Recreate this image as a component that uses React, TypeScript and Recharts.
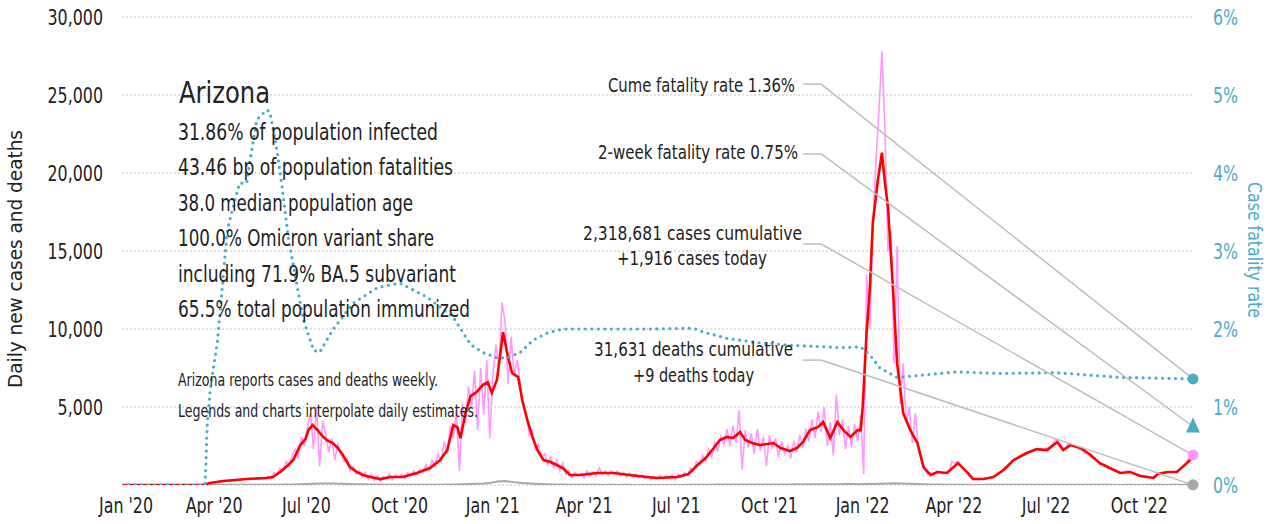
import {
  CartesianGrid,
  Line,
  LineChart,
  ReferenceDot,
  ReferenceLine,
  XAxis,
  YAxis,
} from "recharts";

const FONT = "'Liberation Sans Narrow', 'Arial Narrow', 'DejaVu Sans Condensed', sans-serif";
const TEAL = "#4bacc6";
const PINK = "#ff99ff";
const RED = "#ff0000";
const GRAY = "#a6a6a6";
const INK = "#222222";
const LEADER = "#bdbdbd";
const SQUEEZE = 0.84;

// days since Jan 1 2020
const xTickDays = [0, 91, 182, 274, 366, 456, 547, 639, 731, 821, 912, 1004];
const xTickLabels = ["Jan '20", "Apr '20", "Jul '20", "Oct '20", "Jan '21", "Apr '21", "Jul '21", "Oct '21", "Jan '22", "Apr '22", "Jul '22", "Oct '22"];
const caseTicks = [5000, 10000, 15000, 20000, 25000, 30000];
const rateTicks = [0, 1, 2, 3, 4, 5, 6];
const lastDay = 1057;

// daily new cases, one value every 3 days
const dailyStep = 3;
const dailyCases = [
  0, 0, 0, 0, 0, 0, 0, 0, 0, 0, 0, 0, 0, 0, 0, 0, 0, 0, 0, 0, 0, 0, 0, 0, 0, 0, 0,
  20, 60, 120, 200, 180, 260, 250, 300, 230, 320, 280, 350, 300, 400, 350, 420, 380, 450, 400, 480,
  420, 550, 500, 800, 650, 1100, 900, 1500, 1200, 1900, 2300, 1800, 3100, 2500, 3700, 4600, 2300,
  5000, 1200, 4100, 3300, 2100, 3000, 1600, 2600, 2000, 1500, 1700, 900, 1200, 700, 900, 500, 800, 350,
  700, 300, 600, 250, 550, 400, 700, 350, 650, 450, 700, 400, 800, 600, 900, 650, 1000, 800,
  1300, 900, 1600, 1200, 2000, 1500, 2800, 2000, 3800, 3000, 4800, 900, 5200, 4000, 6300, 5000, 7300, 3500,
  7500, 4500, 8000, 3000, 7000, 9000, 7500, 11700, 10500, 6500, 9500, 7000, 8000, 6500, 5000, 4500, 3200,
  3500, 2300, 2600, 1800, 2000,
  1300, 1800, 1100, 1600, 900, 1400, 700, 900, 500, 800, 600, 700, 450, 900, 600, 800, 600, 1100, 700,
  900, 600, 900, 700, 900, 600, 800, 500, 750, 500, 700, 450, 650, 400, 600, 350, 550, 400, 600, 400,
  600, 500, 650, 350, 700, 500, 800, 600,
  1100, 900, 1500, 1300, 1900, 1500, 2300, 1800, 2700, 2200, 3100, 2600, 3600, 2500, 3800, 2700, 4800, 1000,
  3500, 2400, 3300, 2000, 3600, 2200, 3100, 1200, 3200, 2300, 3000, 1800, 2800, 2000, 2500, 1700, 2800, 2100,
  3200, 2400, 3600, 2800, 4200, 3000, 4700, 3400, 5000, 2500, 4000, 1900, 5800, 3200, 4200, 2300, 3800, 2400,
  3900, 2800, 4500,
  700, 13500, 10000, 16500, 20600, 23900, 27800, 22700, 15000, 16300, 7800, 15300, 5200, 7800, 4000, 5000,
  2700, 4600, 2250, 1600, 1000, 700,
  800, 650, 900, 800, 700, 800, 750, 1500, 1400, 1500, 1300, 1000, 800, 500, 350, 350, 350, 380, 400, 450,
  500, 550, 650, 850, 1000, 1100, 1300, 1550, 1700, 1800, 1950, 2050, 2100, 2200, 2300, 2300, 2250, 2200,
  2350, 2400, 2600, 2900, 2800, 2500, 2300, 2600, 2600, 2500, 2450, 2300, 2200, 2100, 1900, 1800, 1650, 1500,
  1300, 1300, 1150, 1000, 1050, 950, 800, 750, 850, 900, 800, 750, 650, 600, 600, 550, 500, 480, 500, 750,
  800, 850, 850, 850, 850, 900, 1000, 1200, 1400, 1700, 1900,
];

// daily deaths, one value per week
const deathStep = 7;
const dailyDeaths = [
  0, 0, 0, 0, 0, 0, 0, 0, 0, 0, 0, 0,
  3, 6, 10, 14, 12, 15, 14, 16, 15, 18,
  20, 25, 30, 45, 60, 80, 90, 100, 95, 85,
  70, 55, 45, 35, 25, 20, 15, 12, 10, 12,
  10, 12, 15, 20, 28, 35, 45, 60, 75, 90,
  150, 230, 250, 200, 150, 110, 80, 60, 45, 35,
  25, 20, 15, 12, 10, 10, 8, 10, 8, 10,
  8, 7, 8, 8, 6, 8, 7, 8, 10, 12,
  15, 20, 25, 30, 35, 40, 40, 38, 35, 30,
  30, 35, 40, 45, 40, 45, 50, 45, 50, 55,
  60, 60, 55, 60, 70, 80, 90, 110, 100, 80,
  60, 45, 35, 25, 20, 15, 12, 10, 8, 8,
  10, 10, 12, 15, 15, 18, 20, 20, 18, 15,
  18, 15, 14, 12, 12, 10, 10, 10, 8, 8,
  9, 8, 8, 9, 9, 8, 9, 9, 9, 9,
];

// 7-day average of new cases
const avgDays = [
  0, 80, 87, 100, 123, 143, 149, 156, 163, 169,
  176, 181, 184, 188, 193, 197, 202, 208, 213, 218,
  225, 232, 238, 245, 255, 265, 277, 291, 304, 314,
  321, 327, 331, 334, 339, 344, 350, 356, 361, 365,
  370, 373, 376, 381, 385, 391, 395, 400, 405, 410,
  416, 423, 429, 435, 442, 452, 469, 485, 501, 518,
  528, 548, 559, 568, 576, 584, 590, 597, 603, 610,
  615, 622, 630, 643, 650, 659, 666, 672, 679, 687,
  692, 699, 706, 712, 719, 726, 729, 731, 733, 735,
  738, 741, 746, 750, 753, 756, 761, 765, 771, 778,
  785, 791, 798, 805, 814, 825, 834, 840, 850, 860,
  870, 880, 893, 903, 913, 923, 929, 936, 946, 956,
  965, 975, 985, 995, 1005, 1018, 1022, 1032, 1041, 1051,
  1057,
];
const avgCases = [
  0, 0, 130, 260, 380, 450, 510, 830, 1220, 1600,
  2560, 2950, 3520, 3850, 3520, 3200, 2880, 2690, 2370, 1920,
  1150, 830, 640, 510, 380, 510, 510, 770, 1090, 1600,
  2240, 3850, 3700, 3000, 4600, 5700, 5960, 6410, 6600, 5900,
  6730, 8200, 9800, 8200, 7180, 6920, 5450, 4170, 3080, 2240,
  1600, 1470, 1280, 1090, 640, 640, 770, 770, 640, 510,
  450, 510, 700, 1280, 1730, 2370, 2880, 3080, 3010, 3400,
  2880, 2690, 2560, 2690, 2370, 2180, 2370, 2750, 3520, 3720,
  4040, 3010, 4040, 3520, 3080, 3520, 3500, 5000, 7500, 9900,
  12500, 16800, 19550, 21300, 19360, 17800, 12500, 7800, 4600, 3520,
  2690, 1150, 640, 830, 770, 1400, 830, 380, 380, 510,
  960, 1600, 2050, 2300, 2240, 2750, 2240, 2560, 2370, 1920,
  1400, 1090, 770, 830, 580, 450, 700, 830, 830, 1400,
  1800,
];

// cumulative case fatality rate, %
const rateDays = [
  0, 82, 84, 87, 94, 99, 104, 109, 116, 123,
  126, 133, 138, 143, 146, 153, 158, 164, 173, 179,
  189, 195, 208, 228, 252, 274, 301, 327, 344, 356,
  370, 380, 393, 406, 420, 435, 472, 521, 564, 574,
  597, 630, 662, 696, 709, 729, 738, 748, 765, 791,
  824, 867, 921, 985, 1057,
];
const rateValues = [
  0, 0, 0.74, 1.22, 1.82, 2.54, 3.27, 3.53, 3.87, 3.87,
  4.13, 4.68, 4.75, 4.81, 4.78, 4.29, 3.82, 3.18, 2.54, 2.12,
  1.73, 1.7, 1.99, 2.33, 2.53, 2.59, 2.41, 2.15, 1.8, 1.7,
  1.63, 1.63, 1.7, 1.86, 1.95, 2.0, 2.0, 2.0, 2.01, 1.96,
  1.88, 1.82, 1.79, 1.77, 1.76, 1.77, 1.67, 1.5, 1.38, 1.41,
  1.45, 1.43, 1.44, 1.38, 1.36,
];

const cumeRate = 1.36;
const twoWeekRate = 0.75;
const casesToday = 1916;
const deathsToday = 9;
const casesPerRatePoint = 30000 / 6;

const statLines = [
  "31.86% of population infected",
  "43.46 bp of population fatalities",
  "38.0 median population age",
  "100.0% Omicron variant share",
  "including 71.9% BA.5 subvariant",
  "65.5% total population immunized",
];
const statWidths = [260, 275, 235, 256, 278, 292];
const footNotes = ["Arizona reports cases and deaths weekly.", "Legends and charts interpolate daily estimates."];
const footWidths = [260, 300];

const dailyData = dailyCases.map((v, i) => ({ day: i * dailyStep, v }));
const deathData = dailyDeaths.map((v, i) => ({ day: i * deathStep, v }));
const avgData = avgDays.map((day, i) => ({ day, v: avgCases[i] }));
const rateData = rateDays.map((day, i) => ({ day, v: rateValues[i] }));

// leader lines: stub start/end day and height (in cases units) next to each label
const stubFrom = 672;
const stubTo = 690;
const leaders = [
  { h: 25700, y: cumeRate * casesPerRatePoint },
  { h: 21220, y: twoWeekRate * casesPerRatePoint },
  { h: 15450, y: casesToday },
  { h: 8010, y: deathsToday },
];

function XTick({ x, y, payload }: any) {
  const i = xTickDays.indexOf(payload.value);
  const dx = payload.value === 0 ? 4 : 0;
  return (
    <g transform={`translate(${x + dx},${y + 26}) scale(${SQUEEZE},1)`}>
      <text textAnchor="middle" fontSize={21} fill={INK} fontFamily={FONT}>
        {xTickLabels[i]}
      </text>
    </g>
  );
}

function LeftTick({ x, y, payload }: any) {
  return (
    <g transform={`translate(${x},${y + 7.5}) scale(${SQUEEZE},1)`}>
      <text textAnchor="end" fontSize={21} fill={INK} fontFamily={FONT}>
        {payload.value.toLocaleString("en-US")}
      </text>
    </g>
  );
}

function RightTick({ x, y, payload }: any) {
  return (
    <g transform={`translate(${x},${y + 7.5}) scale(${SQUEEZE},1)`}>
      <text textAnchor="start" fontSize={21} fill={TEAL} fontFamily={FONT}>
        {payload.value}%
      </text>
    </g>
  );
}

function Triangle({ cx, cy }: any) {
  return <polygon points={`${cx},${cy - 9} ${cx - 7},${cy + 6} ${cx + 7},${cy + 6}`} fill={TEAL} />;
}

function Txt({ x, y, w, size, anchor = "start", fill = INK, children }: any) {
  return (
    <text x={x} y={y} fontSize={size} fill={fill} textAnchor={anchor} textLength={w} lengthAdjust="spacingAndGlyphs" fontFamily={FONT}>
      {children}
    </text>
  );
}

export default function App() {
  return (
    <div style={{ position: "absolute", left: 0, top: 0, width: 1270, height: 524, background: "#fff" }}>
      <LineChart width={1270} height={524} margin={{ top: 17, right: 17, bottom: 9, left: 62 }}>
        <CartesianGrid yAxisId="cases" vertical={false} stroke="#c4c4c4" strokeDasharray="2 2" />
        <XAxis
          dataKey="day"
          type="number"
          domain={[0, lastDay]}
          ticks={xTickDays}
          interval={0}
          axisLine={false}
          tickLine={false}
          tickSize={0}
          height={30}
          tick={<XTick />}
          allowDataOverflow
        />
        <YAxis
          yAxisId="cases"
          domain={[0, 30000]}
          ticks={caseTicks}
          width={60}
          axisLine={false}
          tickLine={false}
          tickSize={0}
          tickMargin={19}
          tick={<LeftTick />}
          allowDataOverflow
        />
        <YAxis
          yAxisId="rate"
          orientation="right"
          domain={[0, 6]}
          ticks={rateTicks}
          width={60}
          axisLine={false}
          tickLine={false}
          tickSize={0}
          tickMargin={20}
          tick={<RightTick />}
          allowDataOverflow
        />
        <Line yAxisId="cases" data={dailyData} dataKey="v" stroke={PINK} strokeWidth={1.6} dot={false} isAnimationActive={false} />
        <Line yAxisId="cases" data={deathData} dataKey="v" stroke={GRAY} strokeWidth={2} dot={false} isAnimationActive={false} />
        <Line yAxisId="cases" data={avgData} dataKey="v" stroke={RED} strokeWidth={2.6} dot={false} isAnimationActive={false} />
        <Line
          yAxisId="rate"
          data={rateData}
          dataKey="v"
          stroke={TEAL}
          strokeWidth={3.2}
          strokeDasharray="0 6.5"
          strokeLinecap="round"
          dot={false}
          isAnimationActive={false}
        />
        {leaders.map((l, i) => (
          <ReferenceLine
            key={"s" + i}
            yAxisId="cases"
            segment={[{ x: stubFrom, y: l.h }, { x: stubTo, y: l.h }]}
            stroke={LEADER}
            strokeWidth={1.5}
            ifOverflow="visible"
          />
        ))}
        {leaders.map((l, i) => (
          <ReferenceLine
            key={"d" + i}
            yAxisId="cases"
            segment={[{ x: stubTo, y: l.h }, { x: lastDay, y: l.y }]}
            stroke={LEADER}
            strokeWidth={1.5}
            ifOverflow="visible"
          />
        ))}
        <ReferenceDot yAxisId="rate" x={lastDay} y={cumeRate} r={5.5} fill={TEAL} stroke="none" ifOverflow="visible" />
        <ReferenceDot yAxisId="rate" x={lastDay} y={twoWeekRate} r={6} shape={<Triangle />} ifOverflow="visible" />
        <ReferenceDot yAxisId="cases" x={lastDay} y={casesToday} r={5.5} fill={PINK} stroke="none" ifOverflow="visible" />
        <ReferenceDot yAxisId="cases" x={lastDay} y={deathsToday} r={5.5} fill={GRAY} stroke="none" ifOverflow="visible" />
      </LineChart>

      <svg width={1270} height={524} style={{ position: "absolute", left: 0, top: 0, pointerEvents: "none" }}>
        <g transform="translate(22,259) rotate(-90)">
          <Txt x={0} y={0} w={258} size={20} anchor="middle">Daily new cases and deaths</Txt>
        </g>
        <g transform="translate(1248,250) rotate(90)">
          <Txt x={0} y={0} w={136} size={20} anchor="middle" fill={TEAL}>Case fatality rate</Txt>
        </g>

        <Txt x={179} y={103} w={91} size={31}>Arizona</Txt>
        {statLines.map((s, i) => (
          <Txt key={s} x={178} y={140 + i * 35.4} w={statWidths[i]} size={23}>{s}</Txt>
        ))}
        {footNotes.map((s, i) => (
          <Txt key={s} x={178} y={386 + i * 31} w={footWidths[i]} size={18}>{s}</Txt>
        ))}

        <Txt x={608} y={92} w={187} size={20}>Cume fatality rate 1.36%</Txt>
        <Txt x={598} y={159} w={200} size={20}>2-week fatality rate 0.75%</Txt>
        <Txt x={583} y={240} w={219} size={20}>2,318,681 cases cumulative</Txt>
        <Txt x={617} y={265} w={150} size={20}>+1,916 cases today</Txt>
        <Txt x={594} y={356} w={199} size={20}>31,631 deaths cumulative</Txt>
        <Txt x={633} y={382} w={121} size={20}>+9 deaths today</Txt>
      </svg>
    </div>
  );
}
